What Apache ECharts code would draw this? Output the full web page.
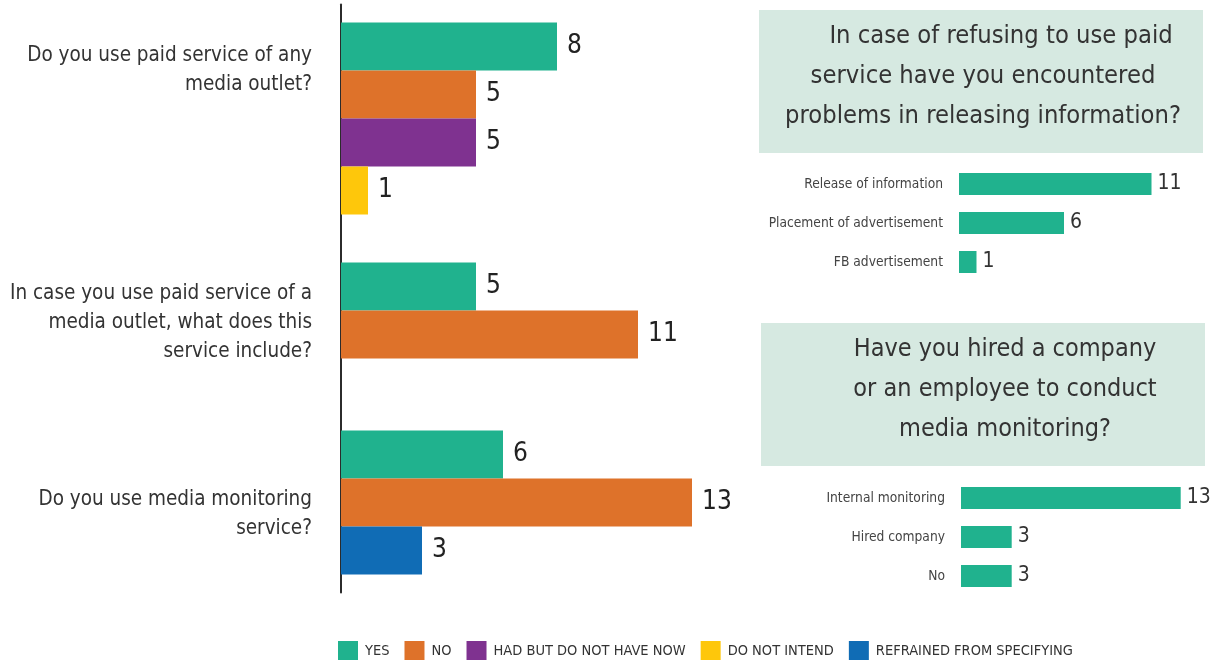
<!DOCTYPE html>
<html>
<head>
<meta charset="utf-8">
<script src="https://cdn.jsdelivr.net/npm/echarts@6/dist/echarts.min.js"></script>
<style>
html,body{margin:0;padding:0;background:#fff;}
#chart{width:1213px;height:660px;}
</style>
</head>
<body>
<div id="chart"></div>
<script>
// ---------- DATA ----------
const questions = [
  'Do you use paid service of any\nmedia outlet?',
  'In case you use paid service of a\nmedia outlet, what does this\nservice include?',
  'Do you use media monitoring\nservice?'
];
const seriesNames = ['YES', 'NO', 'HAD BUT DO NOT HAVE NOW', 'DO NOT INTEND', 'REFRAINED FROM SPECIFYING'];
const yesVals       = [8, 5, 6];
const noVals        = [5, 11, 13];
const hadVals       = [5, null, null];
const notIntendVals = [1, null, null];
const refrainedVals = [null, null, 3];

const refuseTitle = 'In case of refusing to use paid\nservice have you encountered\nproblems in releasing information?';
const refuseCats = ['Release of information', 'Placement of advertisement', 'FB advertisement'];
const refuseVals = [11, 6, 1];

const hiredTitle = 'Have you hired a company\nor an employee to conduct\nmedia monitoring?';
const hiredCats = ['Internal monitoring', 'Hired company', 'No'];
const hiredVals = [13, 3, 3];

// ---------- STYLE ----------
const FONT = "'Liberation Sans Narrow','DejaVu Sans Condensed','Roboto Condensed',sans-serif";
const colors = ['#20b28e', '#de722a', '#7f3290', '#fec70b', '#106cb5'];
const BOX = '#d6e9e1';
const TXT = '#333333';

// ---------- LAYOUT of main chart rows (12px slots) ----------
const allVals = [yesVals, noVals, hadVals, notIntendVals, refrainedVals];
const PAD_TOP = 3, PAD_BOTTOM = 3, BAR_STEP = 4, GROUP_GAPS = [0, 4, 6];
const labelOffset = [2, 3, 5];
let slot = PAD_TOP;
const barSlots = allVals.map(() => [null, null, null]);
const labelSlots = [];
questions.forEach((q, g) => {
  slot += GROUP_GAPS[g];
  const start = slot;
  allVals.forEach((arr, s) => {
    if (arr[g] != null) { barSlots[s][g] = slot; slot += BAR_STEP; }
  });
  labelSlots.push(start + labelOffset[g]);
});
const totalSlots = slot - BAR_STEP + 1 + PAD_BOTTOM;
const yCats = new Array(totalSlots).fill('');
labelSlots.forEach((s, g) => { yCats[s] = questions[g]; });

const mainSeries = seriesNames.map((name, s) => {
  const data = new Array(totalSlots).fill(null);
  allVals[s].forEach((v, g) => { if (v != null) data[barSlots[s][g]] = v; });
  return {
    name, type: 'bar', xAxisIndex: 0, yAxisIndex: 0,
    data, barWidth: 48, barGap: '-100%',
    itemStyle: { color: colors[s] },
    label: { show: true, position: 'right', distance: 10, color: '#222', fontFamily: FONT, fontSize: 26 },
    emphasis: { disabled: true }
  };
});

function smallSeries(vals) {
  return {
    type: 'bar', data: vals, barWidth: 22,
    itemStyle: { color: colors[0] },
    label: { show: true, position: 'right', distance: 6, color: TXT, fontFamily: FONT, fontSize: 21 },
    emphasis: { disabled: true }
  };
}

const chart = echarts.init(document.getElementById('chart'), null, { renderer: 'canvas' });
const SLOT = 12;
const mainTop = 46.5 - SLOT / 2 - PAD_TOP * SLOT;
const titleLines = refuseTitle.split('\n');

chart.setOption({
  animation: false,
  color: colors,
  textStyle: { fontFamily: FONT },
  legend: {
    data: seriesNames,
    left: 338, top: 641, padding: 0,
    itemWidth: 20, itemHeight: 20, itemGap: 15,
    icon: 'rect',
    textStyle: { fontFamily: FONT, fontSize: 14.5, color: TXT, padding: [0, 0, 0, 2] },
    selectedMode: false
  },
  grid: [
    { left: 341, top: mainTop, width: 27 * 14, height: totalSlots * SLOT, outerBoundsMode: 'none', containLabel: false },
    { left: 959, top: 164.5, width: 17.5 * 13, height: 117, outerBoundsMode: 'none', containLabel: false },
    { left: 961, top: 478.5, width: 16.9 * 13, height: 117, outerBoundsMode: 'none', containLabel: false }
  ],
  xAxis: [
    { gridIndex: 0, type: 'value', min: 0, max: 14, show: false },
    { gridIndex: 1, type: 'value', min: 0, max: 13, show: false },
    { gridIndex: 2, type: 'value', min: 0, max: 13, show: false }
  ],
  yAxis: [
    {
      gridIndex: 0, type: 'category', inverse: true, data: yCats,
      axisLine: { show: true, lineStyle: { color: '#2b2b2b', width: 2 } },
      axisTick: { show: false },
      axisLabel: { interval: 0, margin: 29, fontFamily: FONT, fontSize: 20.5, lineHeight: 29, color: TXT, align: 'right' },
      splitLine: { show: false }
    },
    {
      gridIndex: 1, type: 'category', inverse: true, data: refuseCats,
      axisLine: { show: false }, axisTick: { show: false },
      axisLabel: { margin: 16, fontFamily: FONT, fontSize: 13.7, color: '#444' }
    },
    {
      gridIndex: 2, type: 'category', inverse: true, data: hiredCats,
      axisLine: { show: false }, axisTick: { show: false },
      axisLabel: { margin: 16, fontFamily: FONT, fontSize: 13.7, color: '#444' }
    }
  ],
  series: [
    ...mainSeries,
    Object.assign(smallSeries(refuseVals), { xAxisIndex: 1, yAxisIndex: 1 }),
    Object.assign(smallSeries(hiredVals), { xAxisIndex: 2, yAxisIndex: 2 })
  ],
  graphic: [
    { type: 'rect', shape: { x: 759, y: 10, width: 444, height: 143 }, style: { fill: BOX }, silent: true },
    { type: 'text', x: 983, y: 76, style: { text: '     ' + titleLines[0] + '\n' + titleLines.slice(1).join('\n'), fill: TXT, font: '25.3px ' + FONT, align: 'center', verticalAlign: 'middle', lineHeight: 40 }, silent: true },
    { type: 'rect', shape: { x: 761, y: 323, width: 444, height: 143 }, style: { fill: BOX }, silent: true },
    { type: 'text', x: 1005, y: 389, style: { text: hiredTitle, fill: TXT, font: '25px ' + FONT, align: 'center', verticalAlign: 'middle', lineHeight: 40 }, silent: true }
  ]
});
</script>
</body>
</html>
